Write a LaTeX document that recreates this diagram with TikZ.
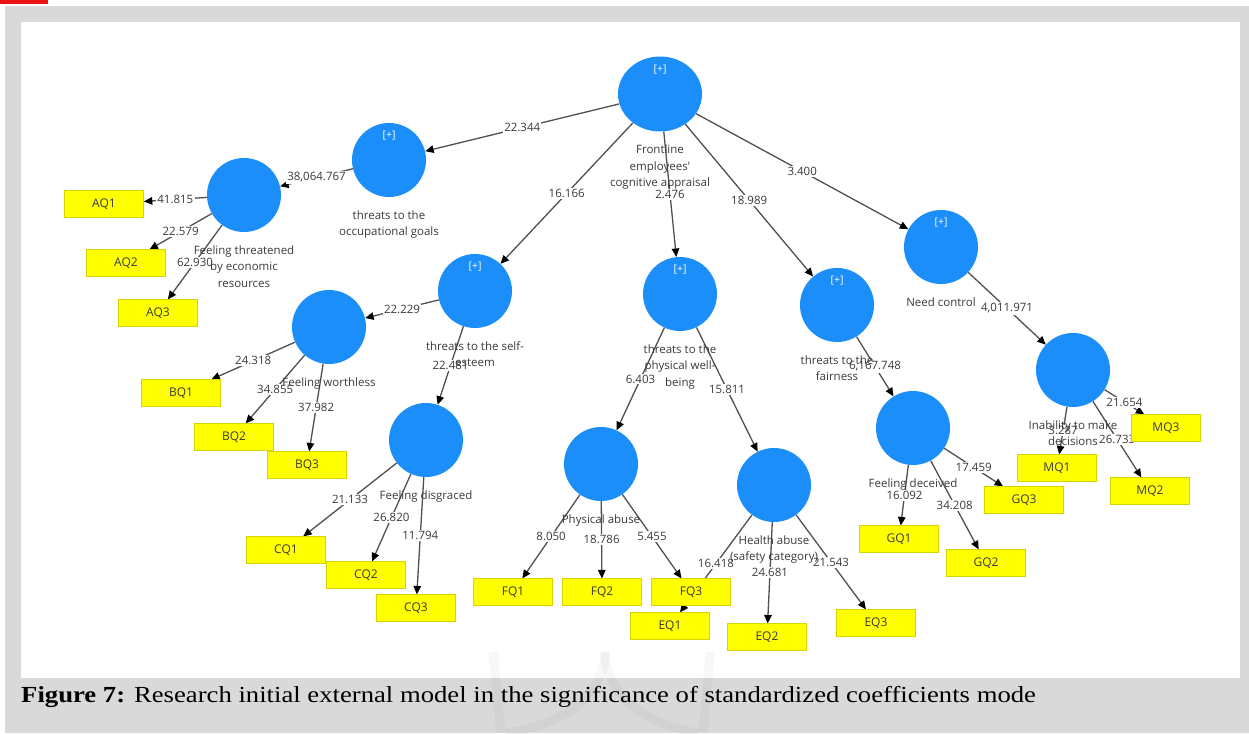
\documentclass[tikz,border=0pt]{standalone}
\usepackage{fontspec}
\newfontfamily\uifont{Open Sans}
\newfontfamily\capfont{Liberation Serif}
\usetikzlibrary{arrows.meta,shapes.geometric}
\definecolor{cblue}{RGB}{27,142,250}
\definecolor{ybox}{RGB}{255,255,0}
\definecolor{yedge}{RGB}{212,212,0}
\definecolor{edgecol}{RGB}{80,80,80}
\definecolor{txt}{RGB}{58,58,58}
\definecolor{panel}{RGB}{217,217,217}
\definecolor{tabred}{RGB}{232,20,20}
\pgfdeclarelayer{back}
\pgfdeclarelayer{edges}
\pgfsetlayers{back,edges,main}
\tikzset{
  lv/.style={circle, fill=cblue, minimum size=74pt, inner sep=0pt},
  ind/.style={rectangle, fill=ybox, draw=yedge, line width=0.6pt,
    minimum width=79pt, minimum height=26.5pt, inner sep=0pt,
    font=\uifont\fontsize{12}{14}\selectfont, text=txt},
  edge/.style={draw=edgecol, line width=1.3pt,
    -{Triangle[length=8.5pt,width=7.5pt,color=black]}},
  val/.style={fill=white, inner sep=1.2pt,
    font=\uifont\fontsize{11.5}{13}\selectfont, text=txt},
  cname/.style={align=center, inner sep=0pt, label distance=13pt,
    font=\uifont\fontsize{11.5}{16.5}\selectfont, text=txt},
  plus/.style={text=white, inner sep=0pt, yshift=24pt,
    font=\uifont\fontsize{10.5}{12}\selectfont},
}
\begin{document}
\begin{tikzpicture}[x=1pt,y=-1pt]
\useasboundingbox (0,0) rectangle (1249,733);

% page frame, panel and caption band
\begin{pgfonlayer}{back}
  \fill[white] (0,0) rectangle (1249,733);
  \fill[tabred] (0,0) rectangle (48,4);
  \fill[panel] (5,6) rectangle (1249,733);
  \fill[white] (21,22) rectangle (1240,678);
  % faint watermark strokes
  \begin{scope}[draw=black, opacity=0.03, line width=9pt]
    \draw (493,652) .. controls (497,690) and (499,715) .. (501,733);
    \draw (710,652) .. controls (707,690) and (705,715) .. (703,733);
    \draw (605,652) .. controls (603,700) and (560,725) .. (506,733);
    \draw (605,652) .. controls (607,700) and (650,725) .. (698,733);
  \end{scope}
\end{pgfonlayer}

% latent variables
\node[lv, ellipse, minimum width=84pt, minimum height=75pt,
  label={[plus]center:{[+]}},
  label={[cname]below:{Frontline\\employees'\\cognitive appraisal}}] (fe) at (660,94) {};
\node[lv, label={[plus]center:{[+]}},
  label={[cname]below:{threats to the\\occupational goals}}] (occ) at (389,160) {};
\node[lv, label={[cname]below:{Feeling threatened\\by economic\\resources}}] (ft) at (244,195) {};
\node[lv, label={[plus]center:{[+]}},
  label={[cname]below:{threats to the self-\\esteem}}] (se) at (475,291) {};
\node[lv, label={[plus]center:{[+]}},
  label={[cname]below:{threats to the\\physical well-\\being}}] (phy) at (680,294) {};
\node[lv, label={[plus]center:{[+]}},
  label={[cname]below:{threats to the\\fairness}}] (fair) at (837,305) {};
\node[lv, label={[plus]center:{[+]}},
  label={[cname]below:{Need control}}] (nc) at (941,247) {};
\node[lv, label={[cname]below:{Inability to make\\decisions}}] (inab) at (1073,370) {};
\node[lv, label={[cname]below:{Feeling worthless}}] (fw) at (329,327) {};
\node[lv, label={[cname]below:{Feeling disgraced}}] (fd) at (426,440) {};
\node[lv, label={[cname]below:{Physical abuse}}] (pa) at (601,464) {};
\node[lv, label={[cname]below:{Health abuse\\(safety category)}}] (ha) at (774,485) {};
\node[lv, label={[cname]below:{Feeling deceived}}] (fdc) at (913,428) {};

% indicators
\node[ind] (aq1) at (104,204) {AQ1};
\node[ind] (aq2) at (126,263) {AQ2};
\node[ind] (aq3) at (158,313) {AQ3};
\node[ind] (bq1) at (181,393) {BQ1};
\node[ind] (bq2) at (234,437) {BQ2};
\node[ind] (bq3) at (307,465) {BQ3};
\node[ind] (cq1) at (286,550) {CQ1};
\node[ind] (cq2) at (366,575) {CQ2};
\node[ind] (cq3) at (416,608) {CQ3};
\node[ind] (fq1) at (513,592) {FQ1};
\node[ind] (fq2) at (602,592) {FQ2};
\node[ind] (fq3) at (691,592) {FQ3};
\node[ind] (eq1) at (670,626) {EQ1};
\node[ind] (eq2) at (767,637) {EQ2};
\node[ind] (eq3) at (876,623) {EQ3};
\node[ind] (gq1) at (899,539) {GQ1};
\node[ind] (gq2) at (986,563) {GQ2};
\node[ind] (gq3) at (1024,500) {GQ3};
\node[ind] (mq1) at (1057,468) {MQ1};
\node[ind] (mq2) at (1150,491) {MQ2};
\node[ind, minimum width=69pt] (mq3) at (1166,428) {MQ3};

% paths with their values
\begin{pgfonlayer}{edges}
  \draw[edge] (fe) -- node[val]{22.344} (occ);
  \draw[edge] (fe) -- node[val]{16.166} (se);
  \draw[edge] (fe) -- node[val]{2.476} (phy);
  \draw[edge] (fe) -- node[val]{18.989} (fair);
  \draw[edge] (fe) -- node[val]{3.400} (nc);
  \draw[edge] (occ) -- node[val]{38,064.767} (ft);
  \draw[edge] (ft) -- node[val]{41.815} (aq1);
  \draw[edge] (ft) -- node[val]{22.579} (aq2);
  \draw[edge] (ft) -- node[val]{62.930} (aq3);
  \draw[edge] (se) -- node[val]{22.229} (fw);
  \draw[edge] (se) -- node[val]{22.481} (fd);
  \draw[edge] (fw) -- node[val]{24.318} (bq1);
  \draw[edge] (fw) -- node[val]{34.855} (bq2);
  \draw[edge] (fw) -- node[val]{37.982} (bq3);
  \draw[edge] (fd) -- node[val]{21.133} (cq1);
  \draw[edge] (fd) -- node[val]{26.820} (cq2);
  \draw[edge] (fd) -- node[val]{11.794} (cq3);
  \draw[edge] (phy) -- node[val]{6.403} (pa);
  \draw[edge] (phy) -- node[val]{15.811} (ha);
  \draw[edge] (pa) -- node[val]{8.050} (fq1);
  \draw[edge] (pa) -- node[val]{18.786} (fq2);
  \draw[edge] (pa) -- node[val]{5.455} (fq3);
  \draw[edge] (ha) -- node[val]{16.418} (eq1);
  \draw[edge] (ha) -- node[val]{24.681} (eq2);
  \draw[edge] (ha) -- node[val]{21.543} (eq3);
  \draw[edge] (fair) -- node[val]{6,167.748} (fdc);
  \draw[edge] (nc) -- node[val]{4,011.971} (inab);
  \draw[edge] (fdc) -- node[val]{16.092} (gq1);
  \draw[edge] (fdc) -- node[val]{34.208} (gq2);
  \draw[edge] (fdc) -- node[val]{17.459} (gq3);
  \draw[edge] (inab) -- node[val]{3.287} (mq1);
  \draw[edge] (inab) -- node[val]{26.733} (mq2);
  \draw[edge] (inab) -- node[val]{21.654} (mq3);
\end{pgfonlayer}

% caption
\node[anchor=base west, inner sep=0pt] (cap) at (21,702)
  {\scalebox{1.16}[1]{\capfont\fontsize{23}{26}\selectfont\textbf{Figure 7:} Research initial external model in the significance of standardized coefficients mode}};
\end{tikzpicture}
\end{document}
